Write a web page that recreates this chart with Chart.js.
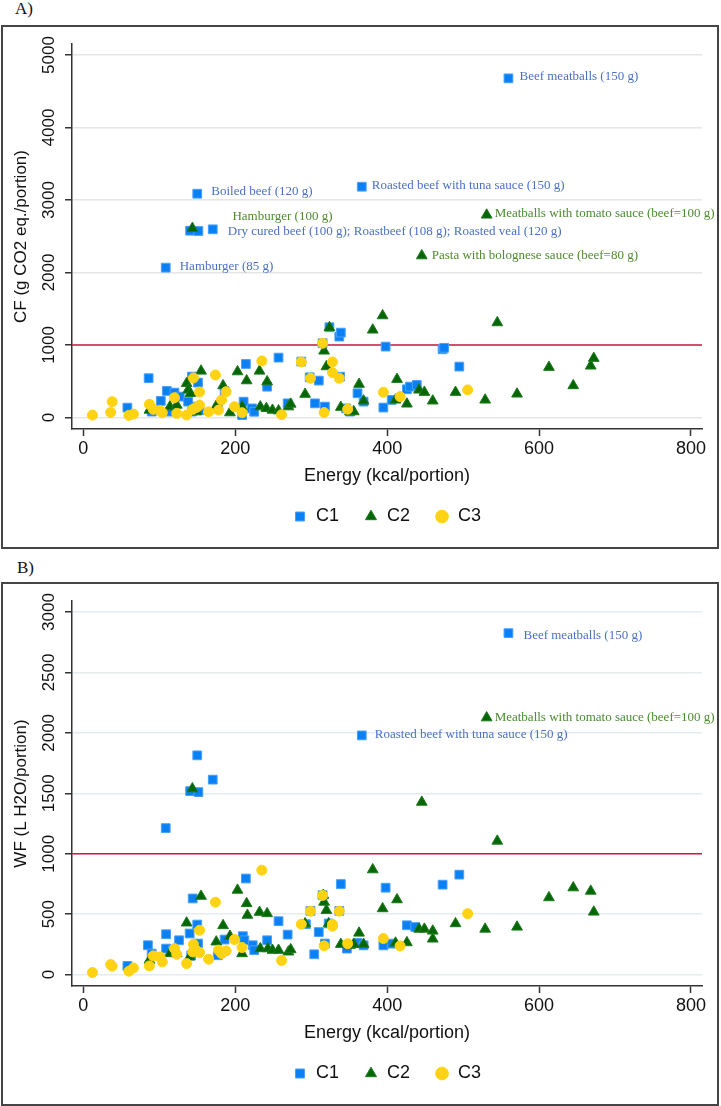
<!DOCTYPE html>
<html>
<head>
<meta charset="utf-8">
<script src="https://cdn.jsdelivr.net/npm/chart.js@4.4.1/dist/chart.umd.min.js"></script>
<style>
  html, body { margin: 0; padding: 0; background: #fff; }
  body { width: 721px; height: 1106px; position: relative; overflow: hidden; }
  .tag { position: absolute; font: 17px 'Liberation Serif', 'Times New Roman', serif; line-height: 1; color: #111; }
  .panel { position: absolute; left: 1px; width: 714px; height: 520px; border: 2px solid #454545; }
  .panel canvas { display: block; }
</style>
</head>
<body>
<div class="tag" style="left:15px;top:0px">A)</div>
<div class="panel" style="top:25px"><canvas id="cfChart" width="714" height="520"></canvas></div>
<div class="tag" style="left:17px;top:559px">B)</div>
<div class="panel" style="top:582px"><canvas id="wfChart" width="714" height="520"></canvas></div>
<script>
// ---- data ----
const seriesNames = ['C1', 'C2', 'C3'];
const energyTicks = [0, 200, 400, 600, 800];
const cfTicks = [0, 1000, 2000, 3000, 4000, 5000];
const wfTicks = [0, 500, 1000, 1500, 2000, 2500, 3000];
const threshold = 1000;

// panel A: carbon footprint
const energyC1A = [108.5, 150, 140.6, 151.5, 170.4, 366.6, 559.7,
  58, 86, 90, 102, 110, 114, 120, 127, 138, 143, 143, 149, 151, 153, 177, 186, 209, 211, 214, 222, 225, 242,
  257, 269, 287, 298, 305, 310, 315, 318, 324, 337, 339, 338, 346, 351, 361, 369, 395, 398, 406, 426, 430,
  439, 473, 475, 495];
const cfC1 = [2066, 3086, 2576, 2572, 2595, 3183, 4678,
  135, 541, 80, 228, 365, 80, 342, 287, 218, 563, 80, 149, 480, 101, 124, 364, 32, 217, 737, 124, 78, 424,
  825, 194, 770, 553, 194, 508, 1023, 149, 1244, 1115, 1170, 562, 124, 80, 333, 218, 136, 977, 241, 388, 425,
  448, 940, 960, 701];
const energyC2A = [143.6, 531, 445.6,
  87, 114, 123, 136, 138, 141, 149, 155, 175, 184, 193, 203, 209, 215, 232, 233, 241, 242, 249, 257, 270,
  273, 292, 317, 320, 324, 339, 351, 356, 363, 369, 381, 394, 411, 413, 426, 442, 449, 460, 490, 529, 545,
  571, 613, 645, 668, 672];
const cfC2 = [2609, 2793, 2231,
  101, 147, 170, 470, 378, 332, 78, 640, 157, 438, 65, 631, 147, 507, 640, 147, 124, 493, 101, 92, 147,
  184, 320, 917, 701, 1240, 140, 78, 80, 458, 228, 1207, 1404, 241, 526, 186, 379, 347, 228, 347, 241, 1308,
  324, 692, 439, 710, 816];
const energyC3 = [12, 36, 38, 60, 66, 87, 92, 101, 104, 120, 123, 136, 145, 153, 144, 153, 149, 165, 174,
  178, 182, 188, 199, 209, 235, 261, 287, 299, 315, 317, 328, 328, 337, 348, 395, 417, 506];
const cfC3 = [32, 69, 217, 28, 46, 180, 111, 92, 65, 272, 55, 32, 544, 350, 111, 170, 138, 78, 585,
  101, 240, 355, 147, 65, 779, 37, 765, 540, 1023, 67, 765, 617, 540, 113, 347, 287, 379];

// panel B: water footprint
const energyC1B = [108.5, 150, 140.6, 151.5, 170.4, 366.6, 559.7,
  58, 85, 90, 109, 109, 118, 126, 140, 142, 144, 150, 151, 177, 186, 210, 212, 214, 223, 225, 242, 257,
  269, 293, 299, 304, 310, 315, 318, 323, 337, 339, 347, 361, 369, 395, 398, 406, 426, 437, 473, 495];
const wfC1 = [1212, 1814, 1518, 1510, 1613, 1979, 2825,
  72, 243, 174, 334, 215, 202, 284, 340, 160, 630, 414, 257, 160, 290, 318, 284, 795, 243, 202, 284, 442,
  331, 417, 527, 168, 352, 657, 257, 423, 527, 749, 215, 262, 242, 242, 719, 256, 408, 394, 744, 827];
const energyC2B = [143.6, 531, 445.6,
  87, 114, 123, 136, 140, 151, 155, 175, 184, 193, 203, 209, 215, 216, 232, 233, 242, 243, 249, 257, 270,
  273, 292, 316, 317, 320, 323, 339, 351, 356, 363, 369, 381, 394, 411, 413, 426, 442, 449, 460, 460, 490,
  529, 545, 571, 613, 645, 668, 672];
const wfC2 = [1538, 2125, 1427,
  119, 174, 174, 428, 146, 202, 649, 271, 406, 318, 699, 174, 588, 492, 516, 215, 505, 215, 202, 202, 188,
  207, 422, 657, 600, 532, 422, 251, 243, 251, 344, 251, 868, 546, 262, 620, 265, 377, 377, 361, 295, 422,
  377, 1105, 394, 637, 719, 691, 518];
const wfC3 = [17, 83, 69, 28, 55, 72, 155, 146, 105, 215, 168, 91, 251, 367, 188, 182, 200, 127, 599,
  202, 174, 196, 290, 224, 864, 116, 417, 525, 655, 238, 416, 400, 525, 256, 298, 237, 504];

// labelled dishes: series index (0=C1, 1=C2) and point index inside that series
const cfNotes = [
  { series: 0, index: 1, text: 'Boiled beef (120 g)' },
  { series: 1, index: 0, text: 'Hamburger (100 g)' },
  { series: 0, index: 4, text: 'Dry cured beef (100 g); Roastbeef (108 g); Roasted veal (120 g)' },
  { series: 0, index: 0, text: 'Hamburger (85 g)' },
  { series: 0, index: 6, text: 'Beef meatballs (150 g)' },
  { series: 0, index: 5, text: 'Roasted beef with tuna sauce (150 g)' },
  { series: 1, index: 1, text: 'Meatballs with tomato sauce (beef=100 g)' },
  { series: 1, index: 2, text: 'Pasta with bolognese sauce (beef=80 g)' }
];
const wfNotes = [
  { series: 0, index: 6, text: 'Beef meatballs (150 g)' },
  { series: 1, index: 1, text: 'Meatballs with tomato sauce (beef=100 g)' },
  { series: 0, index: 5, text: 'Roasted beef with tuna sauce (150 g)' }
];
// pixel offsets of each label from its marker
const cfNoteOffsets = [[14, -2], [40, -12], [15, 2], [14, -1], [11, -2], [10, -1], [8, -1], [10, 0]];
const wfNoteOffsets = [[15, 2], [8, 0], [13, -1]];

// ---- styling ----
const SANS = "'Liberation Sans', Arial, sans-serif";
const SERIF = "'Liberation Serif', 'Times New Roman', serif";
const marks = [
  { shape: 'rect', r: 6.2, fill: '#0a80f5', edge: '#4aa0fb' },
  { shape: 'triangle', r: 6.2, fill: '#056605', edge: '#1d7a1d' },
  { shape: 'circle', r: 5, fill: '#ffd312', edge: '#ffd312' }
];
const noteColors = ['#4b70c4', '#4e8a30'];
const X_MIN = -14.9, X_MAX = 814.5;

Chart.defaults.color = '#111';
Chart.defaults.font.family = SANS;

const notePlugin = {
  id: 'notes',
  afterDatasetsDraw(chart, args, opts) {
    const ctx = chart.ctx, xs = chart.scales.x, ys = chart.scales.y;
    ctx.save();
    ctx.font = '13px ' + SERIF;
    ctx.textBaseline = 'middle';
    ctx.textAlign = 'left';
    opts.notes.forEach(function(n, i) {
      const pt = chart.data.datasets[n.series].data[n.index];
      const off = opts.offsets[i];
      ctx.fillStyle = noteColors[n.series];
      ctx.fillText(n.text, xs.getPixelForValue(pt.x) + off[0], ys.getPixelForValue(pt.y) + off[1]);
    });
    ctx.restore();
  }
};

function pairs(xs, ys) {
  return xs.map(function(x, i) { return { x: x, y: ys[i] }; });
}

function plain(v) { return String(v); }

function makePanel(id, cfg) {
  const datasets = cfg.series.map(function(s, i) {
    const m = marks[i];
    return {
      type: 'scatter', label: seriesNames[i], data: pairs(s[0], s[1]),
      pointStyle: m.shape, pointRadius: m.r, pointHoverRadius: m.r,
      backgroundColor: m.fill, borderColor: m.edge, borderWidth: 1,
      order: 3 - i
    };
  });
  datasets.push({
    type: 'line', label: 'limit',
    data: [{ x: X_MIN, y: threshold }, { x: X_MAX, y: threshold }],
    borderColor: '#c81d45', borderWidth: 1.6, pointRadius: 0, order: 9
  });
  return new Chart(document.getElementById(id), {
    type: 'scatter',
    data: { datasets: datasets },
    options: {
      responsive: false, animation: false, devicePixelRatio: 1, events: [],
      layout: { padding: { left: 0, right: 15, top: 17, bottom: 11.5 } },
      plugins: {
        tooltip: { enabled: false },
        notes: { notes: cfg.notes, offsets: cfg.offsets },
        legend: {
          position: 'bottom', fullSize: false,
          labels: {
            usePointStyle: true, boxWidth: 14, boxHeight: 9, padding: 25,
            color: '#111', font: { family: SANS, size: 18 },
            filter: function(item) { return item.datasetIndex < 3; },
            sort: function(a, b) { return a.datasetIndex - b.datasetIndex; }
          }
        }
      },
      scales: {
        x: {
          type: 'linear', min: X_MIN, max: X_MAX,
          afterBuildTicks: function(s) { s.ticks = energyTicks.map(function(v) { return { value: v }; }); },
          afterFit: function(s) { s.height = 53.5; },
          grid: { drawOnChartArea: false, tickLength: 7, tickColor: '#333', tickWidth: 1.5 },
          border: { color: '#333', width: 1.5 },
          ticks: { padding: 2, maxRotation: 0, color: '#111', font: { family: SANS, size: 18 }, callback: plain },
          title: { display: true, text: 'Energy (kcal/portion)', color: '#111',
                   font: { family: SANS, size: 18 }, padding: { top: 0, bottom: -4.8 } }
        },
        y: {
          type: 'linear', min: cfg.yMin, max: cfg.yMax,
          afterBuildTicks: function(s) { s.ticks = cfg.ticks.map(function(v) { return { value: v }; }); },
          afterFit: function(s) { s.width = 69; },
          grid: { color: cfg.gridColor, lineWidth: 1.5, tickLength: 7, tickColor: '#333', tickWidth: 1.5 },
          border: { color: '#333', width: 1.5 },
          ticks: { minRotation: 90, maxRotation: 90, crossAlign: 'center', padding: -3,
                   color: '#111', font: { family: SANS, size: 17 }, callback: plain },
          title: { display: true, text: cfg.title, color: '#111',
                   font: { family: SANS, size: 17 }, padding: { top: 7.8, bottom: 0 } }
        }
      }
    },
    plugins: [notePlugin]
  });
}

makePanel('cfChart', {
  series: [[energyC1A, cfC1], [energyC2A, cfC2], [energyC3, cfC3]],
  ticks: cfTicks, yMin: -160, yMax: 5152, gridColor: '#e6e6e6',
  title: 'CF (g CO2 eq./portion)', notes: cfNotes, offsets: cfNoteOffsets
});
makePanel('wfChart', {
  series: [[energyC1B, wfC1], [energyC2B, wfC2], [energyC3, wfC3]],
  ticks: wfTicks, yMin: -94.3, yMax: 3091, gridColor: '#e4ecef',
  title: 'WF (L H2O/portion)', notes: wfNotes, offsets: wfNoteOffsets
});
</script>
</body>
</html>
